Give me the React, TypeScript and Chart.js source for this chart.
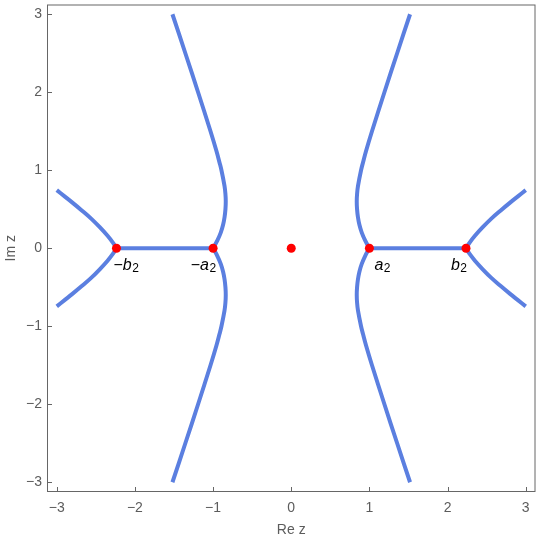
import React, { useEffect, useRef } from 'react';
import { Chart, registerables } from 'chart.js';

Chart.register(...registerables);

// ---------- data ----------
const xTicks = [-3, -2, -1, 0, 1, 2, 3];
const yTicks = [-3, -2, -1, 0, 1, 2, 3];
const axisMin = -3.125;
const axisMax = 3.125;
const xTitle = 'Re z';
const yTitle = 'Im z';

// special points on the real axis
const pointX = [-2.236, -1, 0, 1, 2.236];
const pointY = [0, 0, 0, 0, 0];
const labelSign = ['−', '−', '', '', ''];
const labelLetter = ['b', 'a', '', 'a', 'b'];
const labelSub = ['2', '2', '', '2', '2'];

// right inner curves (through a2)
const rInUpX = [1.0, 0.945, 0.902, 0.872, 0.853, 0.842, 0.838, 0.8425, 0.854, 0.893, 0.918, 0.958, 1.033, 1.192, 1.355, 1.52];
const rInUpY = [0, 0.1, 0.2, 0.3, 0.4, 0.5, 0.6, 0.7, 0.8, 1.0, 1.1, 1.25, 1.5, 2.0, 2.5, 3.0];
const rInLoX = [1.0, 0.945, 0.902, 0.872, 0.853, 0.842, 0.838, 0.8425, 0.854, 0.893, 0.918, 0.958, 1.033, 1.192, 1.355, 1.52];
const rInLoY = [0, -0.1, -0.2, -0.3, -0.4, -0.5, -0.6, -0.7, -0.8, -1.0, -1.1, -1.25, -1.5, -2.0, -2.5, -3.0];
// left inner curves (through -a2)
const lInUpX = [-1.0, -0.945, -0.902, -0.872, -0.853, -0.842, -0.838, -0.8425, -0.854, -0.893, -0.918, -0.958, -1.033, -1.192, -1.355, -1.52];
const lInUpY = [0, 0.1, 0.2, 0.3, 0.4, 0.5, 0.6, 0.7, 0.8, 1.0, 1.1, 1.25, 1.5, 2.0, 2.5, 3.0];
const lInLoX = [-1.0, -0.945, -0.902, -0.872, -0.853, -0.842, -0.838, -0.8425, -0.854, -0.893, -0.918, -0.958, -1.033, -1.192, -1.355, -1.52];
const lInLoY = [0, -0.1, -0.2, -0.3, -0.4, -0.5, -0.6, -0.7, -0.8, -1.0, -1.1, -1.25, -1.5, -2.0, -2.5, -3.0];
// right outer curves (through b2)
const rOutUpX = [2.236, 2.28, 2.35, 2.45, 2.56, 2.68, 2.8, 2.9, 3.0];
const rOutUpY = [0, 0.07, 0.16, 0.27, 0.38, 0.485, 0.585, 0.665, 0.745];
const rOutLoX = [2.236, 2.28, 2.35, 2.45, 2.56, 2.68, 2.8, 2.9, 3.0];
const rOutLoY = [0, -0.07, -0.16, -0.27, -0.38, -0.485, -0.585, -0.665, -0.745];
// left outer curves (through -b2)
const lOutUpX = [-2.236, -2.28, -2.35, -2.45, -2.56, -2.68, -2.8, -2.9, -3.0];
const lOutUpY = [0, 0.07, 0.16, 0.27, 0.38, 0.485, 0.585, 0.665, 0.745];
const lOutLoX = [-2.236, -2.28, -2.35, -2.45, -2.56, -2.68, -2.8, -2.9, -3.0];
const lOutLoY = [0, -0.07, -0.16, -0.27, -0.38, -0.485, -0.585, -0.665, -0.745];
// cuts on the real axis
const rSegX = [1, 2.236];
const rSegY = [0, 0];
const lSegX = [-2.236, -1];
const lSegY = [0, 0];

// ---------- styles ----------
const LINE_COLOR = '#5b7fe0';
const POINT_COLOR = '#ff0000';
const FRAME_COLOR = '#666666';
const TEXT_COLOR = '#5c5c5c';
const FONT = "'Liberation Sans', Arial, sans-serif";
const labelStyle = {
  align: ['left', 'right', 'left', 'left', 'right'],
  dx: [-3, 3, 0, 5, 1],
  dy: 21.5,
};

const zip = (xs: number[], ys: number[]) => xs.map((x, i) => ({ x, y: ys[i] }));
const fmt = (v: number) => (v < 0 ? '−' + Math.abs(v) : String(v));

const framePlugin = {
  id: 'frameAndLabels',
  afterDraw(chart: any) {
    const { ctx, chartArea: ca, scales } = chart;
    const xs = scales.x;
    const ys = scales.y;
    ctx.save();
    ctx.strokeStyle = FRAME_COLOR;
    ctx.lineWidth = 1;
    ctx.strokeRect(ca.left + 0.5, ca.top + 0.5, ca.right - ca.left - 1, ca.bottom - ca.top - 1);
    ctx.beginPath();
    xs.ticks.forEach((t: any) => {
      const px = Math.round(xs.getPixelForValue(t.value)) + 0.5;
      ctx.moveTo(px, ca.bottom);
      ctx.lineTo(px, ca.bottom - 5);
    });
    ys.ticks.forEach((t: any) => {
      const py = Math.round(ys.getPixelForValue(t.value)) + 0.5;
      ctx.moveTo(ca.left, py);
      ctx.lineTo(ca.left + 5, py);
    });
    ctx.stroke();

    // point labels
    ctx.fillStyle = '#000000';
    ctx.textBaseline = 'alphabetic';
    pointX.forEach((vx, i) => {
      if (!labelLetter[i]) return;
      const px = xs.getPixelForValue(vx) + labelStyle.dx[i];
      const py = ys.getPixelForValue(pointY[i]) + labelStyle.dy;
      const fMain = `16px ${FONT}`;
      const fIt = `italic 16px ${FONT}`;
      const fSub = `12px ${FONT}`;
      ctx.font = fMain;
      const wS = labelSign[i] ? ctx.measureText(labelSign[i]).width : 0;
      ctx.font = fIt;
      const wL = ctx.measureText(labelLetter[i]).width;
      ctx.font = fSub;
      const wB = ctx.measureText(labelSub[i]).width;
      const total = wS + wL + 0.5 + wB;
      let x0 = labelStyle.align[i] === 'left' ? px : px - total;
      ctx.textAlign = 'left';
      if (labelSign[i]) {
        ctx.font = fMain;
        ctx.fillText(labelSign[i], x0, py);
        x0 += wS;
      }
      ctx.font = fIt;
      ctx.fillText(labelLetter[i], x0, py);
      x0 += wL + 0.5;
      ctx.font = fSub;
      ctx.fillText(labelSub[i], x0, py + 2.5);
    });
    ctx.restore();
  },
};

export default function App() {
  const ref = useRef<HTMLCanvasElement | null>(null);
  useEffect(() => {
    if (!ref.current) return;
    const curve = (xs: number[], ys: number[]) => ({
      data: zip(xs, ys),
      showLine: true,
      borderColor: LINE_COLOR,
      borderWidth: 4,
      pointRadius: 0,
      tension: 0.4,
      fill: false,
      order: 1,
      borderCapStyle: 'butt',
      borderJoinStyle: 'round',
    });
    const chart = new Chart(ref.current, {
      type: 'scatter',
      data: {
        datasets: [
          {
            data: zip(pointX, pointY),
            pointRadius: 4.5,
            pointBackgroundColor: POINT_COLOR,
            pointBorderWidth: 0,
            borderWidth: 0,
            showLine: false,
            order: 0,
          } as any,
          curve(rSegX, rSegY),
          curve(lSegX, lSegY),
          curve(rInUpX, rInUpY),
          curve(rInLoX, rInLoY),
          curve(lInUpX, lInUpY),
          curve(lInLoX, lInLoY),
          curve(rOutUpX, rOutUpY),
          curve(rOutLoX, rOutLoY),
          curve(lOutUpX, lOutUpY),
          curve(lOutLoX, lOutLoY),
        ],
      },
      options: {
        responsive: false,
        animation: false,
        devicePixelRatio: 1,
        layout: { padding: { top: 1, right: 2, left: 0, bottom: 0 } },
        plugins: { legend: { display: false }, tooltip: { enabled: false } },
        scales: {
          x: {
            type: 'linear',
            min: axisMin,
            max: axisMax,
            afterBuildTicks: (s: any) => {
              s.ticks = xTicks.map((v) => ({ value: v }));
            },
            afterFit: (s: any) => {
              s.height = 47;
              s.paddingLeft = 0;
              s.paddingRight = 0;
            },
            grid: { display: false, drawTicks: false },
            border: { display: false },
            ticks: {
              color: TEXT_COLOR,
              font: { family: FONT, size: 14 },
              padding: 8,
              maxRotation: 0,
              autoSkip: false,
              callback: (v: any) => fmt(Number(v)),
            },
            title: {
              display: true,
              text: xTitle,
              color: TEXT_COLOR,
              font: { family: FONT, size: 14 },
              padding: { top: 0, bottom: 0 },
            },
          },
          y: {
            type: 'linear',
            min: axisMin,
            max: axisMax,
            afterBuildTicks: (s: any) => {
              s.ticks = yTicks.map((v) => ({ value: v }));
            },
            afterFit: (s: any) => {
              s.width = 47;
              s.paddingTop = 0;
              s.paddingBottom = 0;
            },
            grid: { display: false, drawTicks: false },
            border: { display: false },
            ticks: {
              color: TEXT_COLOR,
              font: { family: FONT, size: 14 },
              padding: 5,
              autoSkip: false,
              callback: (v: any) => fmt(Number(v)),
            },
            title: {
              display: true,
              text: yTitle,
              color: TEXT_COLOR,
              font: { family: FONT, size: 14 },
              padding: { top: 3, bottom: 0 },
            },
          },
        },
      } as any,
      plugins: [framePlugin],
    });
    return () => chart.destroy();
  }, []);
  return (
    <div style={{ position: 'absolute', left: 0, top: 0, width: 540, height: 539, background: '#fff' }}>
      <canvas ref={ref} width={540} height={539} style={{ display: 'block', width: 540, height: 539 }} />
    </div>
  );
}
